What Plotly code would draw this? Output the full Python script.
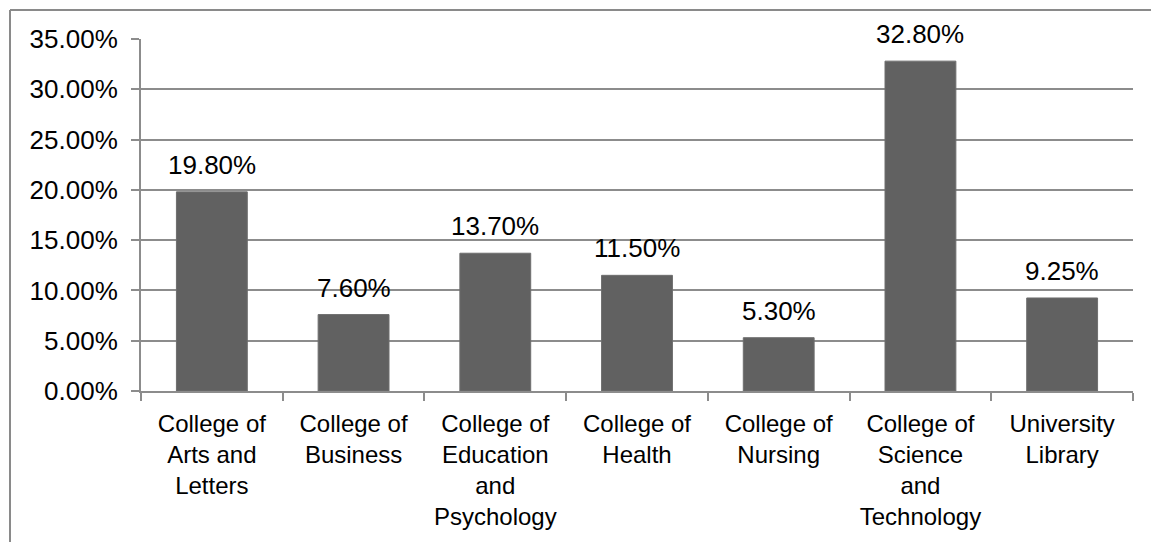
import plotly.graph_objects as go

# Share of total by college / unit
categories = [
    "College of<br>Arts and<br>Letters",
    "College of<br>Business",
    "College of<br>Education<br>and<br>Psychology",
    "College of<br>Health",
    "College of<br>Nursing",
    "College of<br>Science<br>and<br>Technology",
    "University<br>Library",
]
values = [19.80, 7.60, 13.70, 11.50, 5.30, 32.80, 9.25]
y_ticks = [0, 5, 10, 15, 20, 25, 30, 35]

W, H = 1151, 542
L, R, T, B = 141, 18, 39, 151
pw, ph = W - L - R, H - T - B

FONT = "Liberation Sans, Arial, sans-serif"
GRID = "#8c8c8c"

fig = go.Figure()
fig.add_trace(go.Bar(
    x=categories,
    y=values,
    marker=dict(color="#616161", line=dict(color="#6e6e6e", width=1)),
    hoverinfo="skip",
))

# value labels above the bars
for c, v in zip(categories, values):
    fig.add_annotation(
        x=c, y=v, text=f"{v:.2f}%", showarrow=False,
        yanchor="bottom", yshift=10,
        font=dict(family=FONT, size=26, color="#000000"),
    )

# outer chart frame (left and top edges)
def px_to_paper_x(px):
    return (px - L) / pw

def px_to_paper_y(py):
    return (H - B - py) / ph

fig.add_shape(type="line", xref="paper", yref="paper",
              x0=px_to_paper_x(10), x1=px_to_paper_x(W + 5),
              y0=px_to_paper_y(10), y1=px_to_paper_y(10),
              line=dict(color="#8a8a8a", width=2))
fig.add_shape(type="line", xref="paper", yref="paper",
              x0=px_to_paper_x(10), x1=px_to_paper_x(10),
              y0=px_to_paper_y(10), y1=px_to_paper_y(H + 5),
              line=dict(color="#8a8a8a", width=2))

fig.update_layout(
    width=W, height=H,
    margin=dict(l=L, r=R, t=T, b=B, autoexpand=False),
    paper_bgcolor="white", plot_bgcolor="white",
    bargap=0.5,
    showlegend=False,
    font=dict(family=FONT, size=24, color="#000000"),
    xaxis=dict(
        type="category",
        tickson="boundaries",
        ticks="outside", ticklen=8, tickcolor=GRID, tickwidth=2,
        showline=True, linecolor=GRID, linewidth=2,
        showgrid=False,
        tickfont=dict(family=FONT, size=24, color="#000000"),
        tickangle=0,
        ticklabelstandoff=10,
    ),
    yaxis=dict(
        range=[0, 35],
        tickvals=y_ticks,
        ticktext=[f"{t:.2f}%" for t in y_ticks],
        ticks="outside", ticklen=8, tickcolor=GRID, tickwidth=2,
        showline=True, linecolor=GRID, linewidth=2,
        showgrid=True, gridcolor=GRID, gridwidth=2,
        zeroline=False,
        tickfont=dict(family=FONT, size=26, color="#000000"),
        ticklabelstandoff=8,
    ),
)

fig.write_html("out.html")
